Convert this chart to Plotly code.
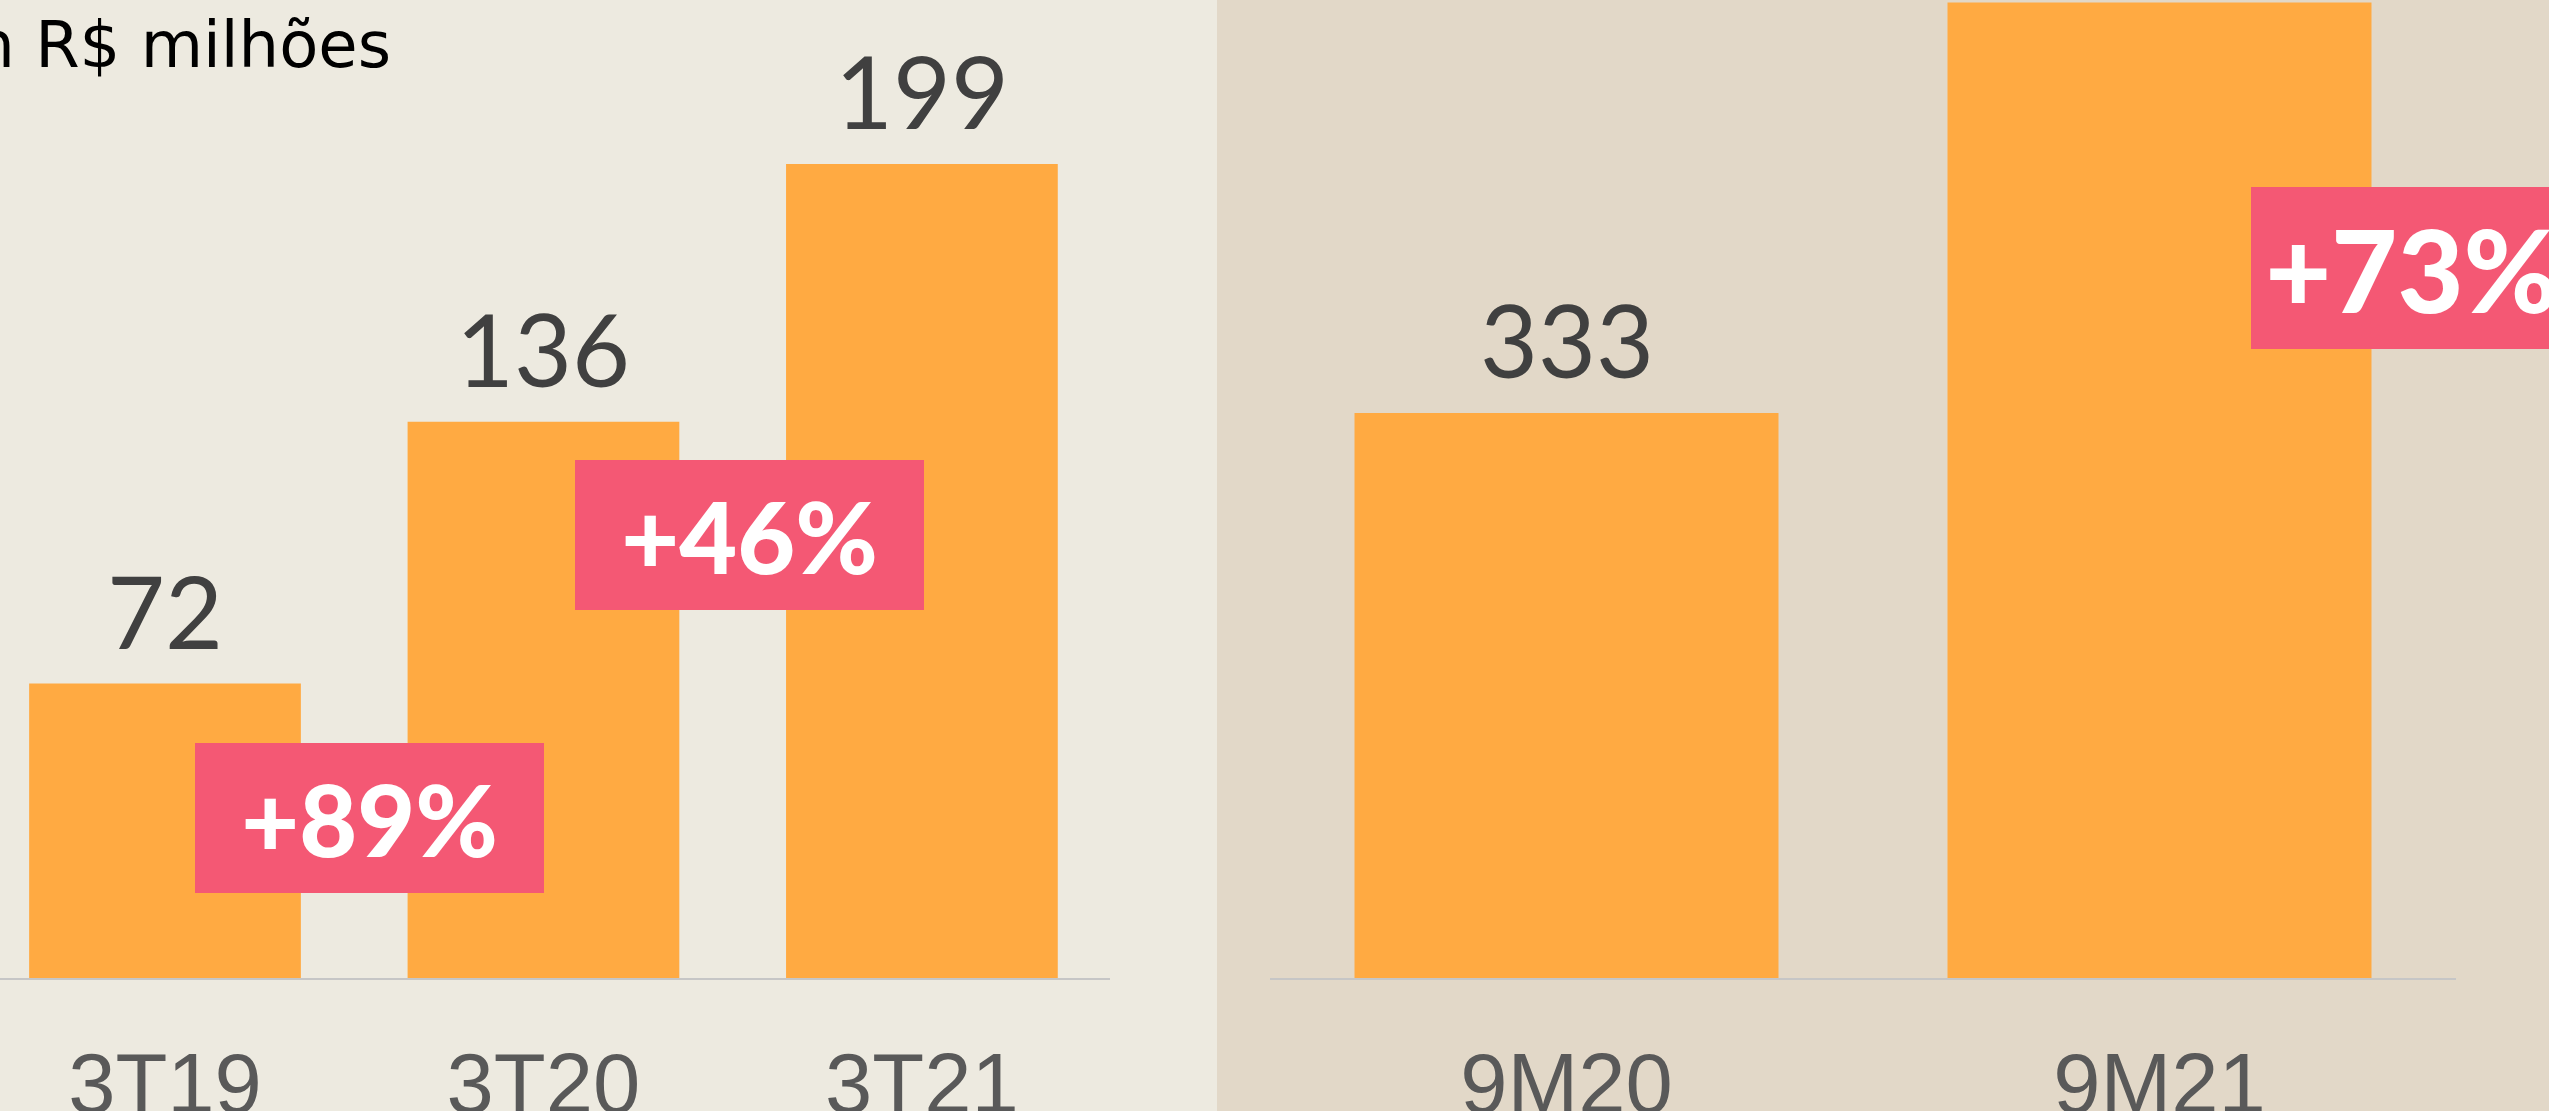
import plotly.graph_objects as go

# ---- data ----
quarters = ["3T19", "3T20", "3T21"]
quarter_values = [72, 136, 199]
periods = ["9M20", "9M21"]
period_values = [333, 575]
unit_label = "Em R$ milhões"

# ---- styles ----
BG_LEFT = "#EDEAE0"
BG_RIGHT = "#E2D8C8"
BAR = "#FFAA42"
PINK = "#F45874"
VAL_COL = "#404040"
CAT_COL = "#595959"
AXIS_COL = "#C6C6C6"
W, H = 2549, 1111

fig = go.Figure()
fig.add_trace(go.Bar(x=quarters, y=quarter_values, marker=dict(color=BAR, line=dict(width=0)),
                     width=0.718, xaxis="x", yaxis="y", hoverinfo="skip"))
fig.add_trace(go.Bar(x=periods, y=period_values, marker=dict(color=BAR, line=dict(width=0)),
                     width=0.715, xaxis="x2", yaxis="y2", hoverinfo="skip"))

annotations = []
# value labels above bars
for cats, vals, xr, yr in [(quarters, quarter_values, "x", "y"), (periods, period_values, "x2", "y2")]:
    for c, v in zip(cats, vals):
        annotations.append(dict(x=c, y=v, xref=xr, yref=yr, text=str(v), showarrow=False,
                                yanchor="bottom", yshift=12,
                                font=dict(family="Lato", size=100, color=VAL_COL, weight=400)))

def growth(a, b):
    return "+{:.0f}%".format((b / a - 1) * 100)

# growth boxes
boxes = [
    (growth(quarter_values[0], quarter_values[1]), "x", "y", 0.0793, 39.1, 349, 150, 100, "center"),
    (growth(quarter_values[1], quarter_values[2]), "x", "y", 1.0835, 108.2, 349, 150, 100, "center"),
    ("\u2009" + growth(period_values[0], period_values[1]), "x2", "y2", 1.1543, 418.5, 377, 162, 114, "left"),
]
for txt, xr, yr, bx, by, bw, bh, fs, al in boxes:
    annotations.append(dict(x=bx, y=by, xref=xr, yref=yr, text=txt, showarrow=False,
                            xanchor="left", yanchor="middle", width=bw, height=bh,
                            bgcolor=PINK, borderpad=0, borderwidth=0, align=al, valign="middle",
                            font=dict(family="Lato", size=fs, color="white", weight=900)))

annotations.append(dict(x=393 / W, y=1, xref="paper", yref="paper", text=unit_label, showarrow=False,
                        xanchor="right", yanchor="top", yshift=-6,
                        font=dict(family="DejaVu Sans", size=64, color="#000000")))

ydom = [(H - 978) / H, 1]
axis_common = dict(showline=True, linecolor=AXIS_COL, linewidth=2, showgrid=False, zeroline=False,
                   ticks="", ticklabelstandoff=31, fixedrange=True, automargin=False,
                   tickfont=dict(family="Liberation Sans, Arial", size=85, color=CAT_COL))

fig.update_layout(
    width=W, height=H,
    margin=dict(l=0, r=0, t=0, b=0, autoexpand=False),
    paper_bgcolor=BG_LEFT, plot_bgcolor="rgba(0,0,0,0)",
    showlegend=False,
    xaxis=dict(domain=[0, 1110 / W], range=[-0.436, 2.497], type="category", anchor="y", **axis_common),
    xaxis2=dict(domain=[1270 / W, 2456 / W], range=[-0.5, 1.5], type="category", anchor="y2", **axis_common),
    yaxis=dict(domain=ydom, range=[0, 978 / 4.09], visible=False, fixedrange=True, automargin=False),
    yaxis2=dict(domain=ydom, range=[0, 978 / 1.6967], visible=False, anchor="x2", fixedrange=True, automargin=False),
    shapes=[dict(type="rect", xref="paper", yref="paper", x0=1217 / W, x1=1, y0=0, y1=1,
                 fillcolor=BG_RIGHT, line=dict(width=0), layer="below")],
    annotations=annotations,
)

fig.write_html("out.html", config={"displayModeBar": False},
               post_script="document.body.style.margin='0';document.body.style.overflow='hidden';")
